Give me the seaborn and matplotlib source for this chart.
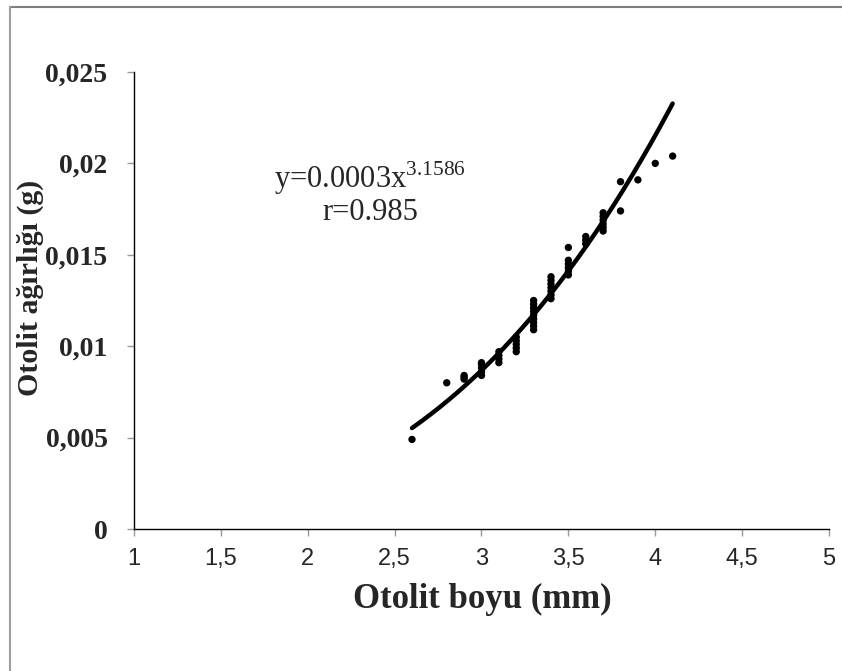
import numpy as np
import pandas as pd
import matplotlib
matplotlib.use("Agg")
import matplotlib.pyplot as plt
from matplotlib.lines import Line2D
import seaborn as sns

# Otolith length (mm) and weight (g) measurements
length_mm = [2.6, 2.8,
             2.9, 2.9, 2.9,
             3.0, 3.0, 3.0, 3.0, 3.0,
             3.1, 3.1, 3.1, 3.1,
             3.2, 3.2, 3.2, 3.2, 3.2,
             3.3, 3.3, 3.3, 3.3, 3.3, 3.3, 3.3, 3.3, 3.3,
             3.4, 3.4, 3.4, 3.4, 3.4, 3.4, 3.4,
             3.5, 3.5, 3.5, 3.5, 3.5, 3.5,
             3.6, 3.6, 3.6,
             3.7, 3.7, 3.7, 3.7, 3.7, 3.7,
             3.8, 3.8,
             3.9, 4.0, 4.1]
weight_g = [0.0049, 0.0080,
            0.0082, 0.0083, 0.0084,
            0.0084, 0.0086, 0.0088, 0.0090, 0.0091,
            0.0091, 0.0093, 0.0095, 0.0097,
            0.0097, 0.0099, 0.0101, 0.0103, 0.0105,
            0.0109, 0.0111, 0.0113, 0.0115, 0.0117, 0.0119, 0.0121, 0.0123, 0.0125,
            0.0126, 0.0128, 0.0130, 0.0132, 0.0134, 0.0136, 0.0138,
            0.0139, 0.0141, 0.0143, 0.0145, 0.0147, 0.0154,
            0.0156, 0.0158, 0.0160,
            0.0163, 0.0165, 0.0167, 0.0169, 0.0171, 0.0173,
            0.0174, 0.0190,
            0.0191, 0.0200, 0.0204]

# Power-law fit W = a * L^b
fit_a = 0.00027
fit_b = 3.1586
fit_r = 0.985

x_ticks = [1, 1.5, 2, 2.5, 3, 3.5, 4, 4.5, 5]
y_ticks = [0, 0.005, 0.01, 0.015, 0.02, 0.025]

sns.set_style("white")
plt.rcParams["font.family"] = ["Liberation Serif", "DejaVu Serif"]
plt.rcParams["mathtext.fontset"] = "custom"
plt.rcParams["mathtext.rm"] = "Liberation Serif"

df = pd.DataFrame({"L": length_mm, "W": weight_g})
x_fit = np.linspace(min(length_mm), max(length_mm), 200)
fit_df = pd.DataFrame({"L": x_fit, "W": fit_a * x_fit ** fit_b})

fig = plt.figure(figsize=(8.42, 6.71), dpi=100)
ax = fig.add_axes([0.1591, 0.2116, 0.8255, 0.6811])

sns.lineplot(data=fit_df, x="L", y="W", ax=ax, color="black", linewidth=3.2)
sns.scatterplot(data=df, x="L", y="W", ax=ax, color="black", s=28,
                edgecolor="none", zorder=3)

ax.set_xlim(1, 5)
ax.set_ylim(0, 0.025)
ax.set_xticks(x_ticks)
ax.set_yticks(y_ticks)


def comma(v):
    s = f"{v:g}"
    return s.replace(".", ",")


ax.set_xticklabels([comma(v) for v in x_ticks], fontfamily="Liberation Sans",
                   fontsize=17)
ax.set_yticklabels([comma(v) for v in y_ticks], fontweight="bold", fontsize=20)

for side in ("top", "right"):
    ax.spines[side].set_visible(False)
for side in ("left", "bottom"):
    ax.spines[side].set_color("black")
    ax.spines[side].set_linewidth(1.0)

ax.tick_params(axis="both", direction="out", length=5, width=1,
               color="#9a9a9a", bottom=True, left=True)
ax.tick_params(axis="x", pad=9)
ax.tick_params(axis="y", pad=14)

ax.set_xlabel("")
ax.set_ylabel("")
fig.text(0.573, 0.106, "Otolit boyu (mm)", ha="center", va="center",
         fontsize=25, fontweight="bold")
fig.text(0.0356, 0.571, "Otolit ağırlığı (g)", ha="center", va="center",
         rotation=90, fontsize=21.5, fontweight="bold")

ax.text(2.36, 0.0192, f"y={fit_a:.4f}x$^{{{fit_b}}}$", ha="center",
        va="center", fontsize=22)
ax.text(2.36, 0.01734, f"r={fit_r}", ha="center", va="center", fontsize=22)

# Outer frame lines along the top and left
fig.add_artist(Line2D([0.0119, 1.0], [0.9896, 0.9896], color="#7f7f7f",
                      linewidth=1.5, transform=fig.transFigure))
fig.add_artist(Line2D([0.0119, 0.0119], [0.0, 0.9896], color="#9f9f9f",
                      linewidth=1.5, transform=fig.transFigure))

fig.savefig("out.png", dpi=100)
